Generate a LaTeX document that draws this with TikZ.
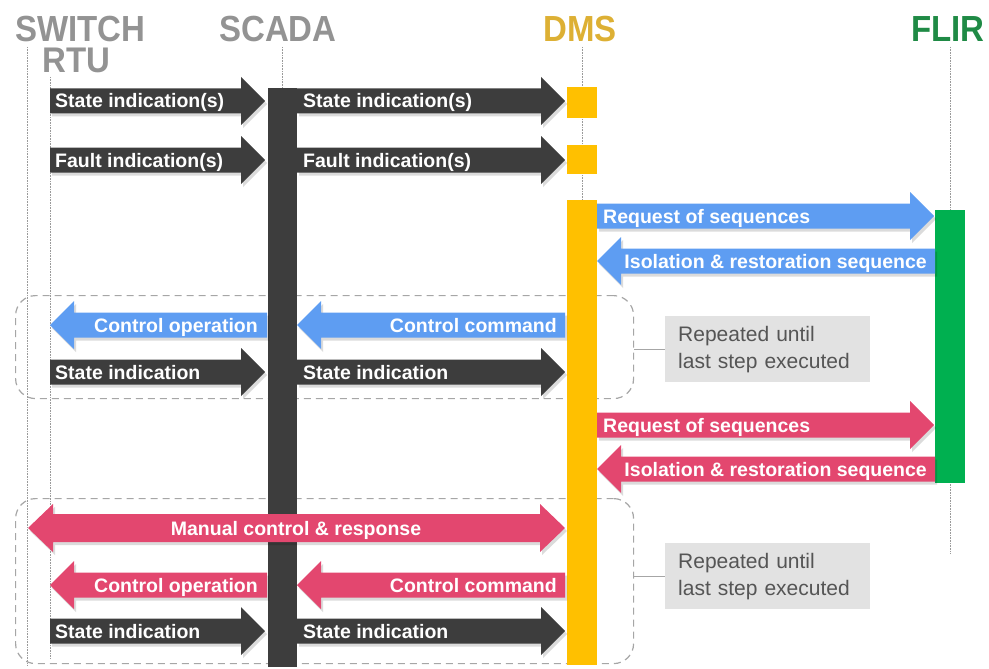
\documentclass[tikz,border=0pt]{standalone}
\usepackage{fontspec}
\setmainfont{Liberation Sans}
\usepackage{graphicx}
\definecolor{dk}{HTML}{3D3D3D}
\definecolor{bl}{HTML}{5E9DF2}
\definecolor{pk}{HTML}{E3476F}
\definecolor{gold}{HTML}{FFC000}
\definecolor{grn}{HTML}{00B050}
\definecolor{hdrgrey}{HTML}{939393}
\definecolor{dmstxt}{HTML}{DDB034}
\definecolor{flirtxt}{HTML}{1F8A45}
\definecolor{repfill}{HTML}{E2E2E2}
\definecolor{reptxt}{HTML}{555555}
\definecolor{dashc}{HTML}{A6A6A6}
\definecolor{lifec}{HTML}{9A9A9A}
\tikzset{
  lbl/.style={text=white, font=\bfseries\fontsize{19.5}{22}\selectfont, inner sep=0pt, text height=14pt, text depth=0pt},
  hdr/.style={font=\bfseries\fontsize{33}{36}\selectfont, inner sep=0pt},
  life/.style={draw=lifec, line width=0.9pt, dash pattern=on 0.8pt off 0.8pt},
  loopbox/.style={draw=dashc, line width=1.2pt, dash pattern=on 7pt off 5pt, rounded corners=20pt, inner sep=0pt, anchor=north west},
  repbox/.style={fill=repfill, text=reptxt, font=\fontsize{21}{27}\selectfont, align=left, text width=179pt, inner xsep=13pt, minimum height=66pt, anchor=north west},
  conn/.style={draw=dashc, line width=1pt},
  barbox/.style={inner sep=0pt, anchor=north west, minimum width=30pt},
  shade/.style={fill=black, opacity=0.14}
}
% right-pointing fat arrow: colour, x tail, x tip, y
\newcommand\RArr[4]{%
  \fill[shade] (#2+2,#4+3) ++(0,-12.5) -- ++({#3-#2-24},0) -- ++(0,-11.5) -- ++(24,24) -- ++(-24,24) -- ++(0,-11.5) -- ++({#2-#3+24},0) -- cycle;
  \fill[#1] (#2,#4) ++(0,-12.5) -- ++({#3-#2-24},0) -- ++(0,-11.5) -- ++(24,24) -- ++(-24,24) -- ++(0,-11.5) -- ++({#2-#3+24},0) -- cycle;}
% left-pointing fat arrow: colour, x tail (right), x tip (left), y
\newcommand\LArr[4]{%
  \fill[shade] (#2+2,#4+3) ++(0,-12.5) -- ++({#3-#2+24},0) -- ++(0,-11.5) -- ++(-24,24) -- ++(24,24) -- ++(0,-11.5) -- ++({#2-#3-24},0) -- cycle;
  \fill[#1] (#2,#4) ++(0,-12.5) -- ++({#3-#2+24},0) -- ++(0,-11.5) -- ++(-24,24) -- ++(24,24) -- ++(0,-11.5) -- ++({#2-#3-24},0) -- cycle;}
% double fat arrow: colour, x left tip, x right tip, y
\newcommand\BArr[4]{%
  \fill[shade] (#2+2,#4+3) -- ++(25,-24) -- ++(0,10) -- ++({#3-#2-50},0) -- ++(0,-10) -- ++(25,24) -- ++(-25,24) -- ++(0,-10) -- ++({#2-#3+50},0) -- ++(0,10) -- cycle;
  \fill[#1] (#2,#4) -- ++(25,-24) -- ++(0,10) -- ++({#3-#2-50},0) -- ++(0,-10) -- ++(25,24) -- ++(-25,24) -- ++(0,-10) -- ++({#2-#3+50},0) -- ++(0,10) -- cycle;}
\begin{document}
\begin{tikzpicture}[x=1pt,y=-1pt]
\useasboundingbox (0,0) rectangle (989,669);
% headers
\node[hdr, anchor=north west, align=left, text=hdrgrey] (switch) at (15,15.5)
  {\scalebox{1}[1.1]{SWITCH}\\[-5pt]\hspace*{27pt}\scalebox{1}[1.08]{RTU}};
\node[hdr, anchor=base, text=hdrgrey] (scada) at (278,42) {\scalebox{1}[1.1]{SCADA}};
\node[hdr, anchor=base, text=dmstxt] (dms) at (580,42) {\scalebox{1}[1.1]{DMS}};
\node[hdr, anchor=base, text=flirtxt] (flir) at (948,42) {\scalebox{1}[1.1]{FLIR}};
% lifeline ends
\coordinate (swT) at (27,47);  \coordinate (swB) at (27,666);
\coordinate (rtT) at (50,77);  \coordinate (rtB) at (50,658);
\coordinate (scT) at (282,47); \coordinate (scB) at (282,90);
\coordinate (dmT) at (582,47); \coordinate (dmB) at (582,202);
\coordinate (flT) at (950,47); \coordinate (flB) at (950,553);
\draw[life] (swT) -- (swB);
\draw[life] (rtT) -- (rtB);
\draw[life] (scT) -- (scB);
\draw[life] (dmT) -- (dmB);
\draw[life] (flT) -- (flB);
% loop frames
\node[loopbox, minimum width=618pt, minimum height=103pt] (loopA) at (15,295) {};
\node[loopbox, minimum width=618pt, minimum height=165pt] (loopB) at (15,498) {};
% activation bars
\node[barbox, fill=dk, minimum width=29pt, minimum height=579pt] (scadabar) at (268,88) {};
\node[barbox, fill=gold, minimum height=31pt] (dmsq1) at (567,87) {};
\node[barbox, fill=gold, minimum height=29pt] (dmsq2) at (567,145) {};
\node[barbox, fill=gold, minimum height=465pt] (dmsbar) at (567,200) {};
\node[barbox, fill=grn, minimum height=273pt] (flirbar) at (935,210) {};
% messages
\RArr{dk}{50}{265}{101}   \RArr{dk}{297}{565}{101}
\RArr{dk}{50}{265}{160}   \RArr{dk}{297}{565}{160}
\RArr{bl}{597}{934}{216}
\LArr{bl}{935}{597}{261}
\LArr{bl}{267}{50}{325}   \LArr{bl}{565}{297}{325}
\RArr{dk}{50}{265}{372}   \RArr{dk}{297}{565}{372}
\RArr{pk}{597}{934}{425}
\LArr{pk}{935}{597}{469}
\BArr{pk}{28}{565}{528}
\LArr{pk}{267}{50}{585}   \LArr{pk}{565}{297}{585}
\RArr{dk}{50}{265}{631}   \RArr{dk}{297}{565}{631}
% labels
\node[lbl, anchor=west] (si1) at (55,101) {State indication(s)};
\node[lbl, anchor=west] (si2) at (303,101) {State indication(s)};
\node[lbl, anchor=west] (fi1) at (55,160) {Fault indication(s)};
\node[lbl, anchor=west] (fi2) at (303,160) {Fault indication(s)};
\node[lbl, anchor=west] (rq1) at (603,216) {Request of sequences};
\node[lbl, anchor=east] (iso1) at (927,261) {Isolation \& restoration sequence};
\node[lbl, anchor=east] (co1) at (258,325) {Control operation};
\node[lbl, anchor=east] (cc1) at (557,325) {Control command};
\node[lbl, anchor=west] (st1) at (55,372) {State indication};
\node[lbl, anchor=west] (st2) at (303,372) {State indication};
\node[lbl, anchor=west] (rq2) at (603,425) {Request of sequences};
\node[lbl, anchor=east] (iso2) at (927,469) {Isolation \& restoration sequence};
\node[lbl] (man) at (296,528) {Manual control \& response};
\node[lbl, anchor=east] (co2) at (258,585) {Control operation};
\node[lbl, anchor=east] (cc2) at (557,585) {Control command};
\node[lbl, anchor=west] (st3) at (55,631) {State indication};
\node[lbl, anchor=west] (st4) at (303,631) {State indication};
% repetition notes
\node[repbox] (repA) at (665,316) {Repeated until\\last step executed};
\node[repbox] (repB) at (665,543) {Repeated until\\last step executed};
\draw[conn] (loopA.east |- repA.west) -- (repA.west);
\draw[conn] (loopB.east |- repB.west) -- (repB.west);
\end{tikzpicture}
\end{document}
